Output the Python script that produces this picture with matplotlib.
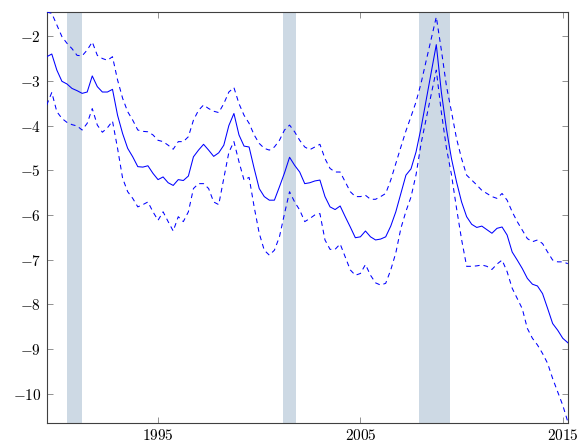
import numpy as np
import matplotlib
matplotlib.use("Agg")
import matplotlib.pyplot as plt

plt.rcParams['mathtext.fontset'] = 'cm'
plt.rcParams['font.family'] = ['DejaVu Serif']

# quarterly dates 1989Q3 .. 2015Q2
start_year = 1989.5
n_quarters = 104
dates = start_year + 0.25 * np.arange(n_quarters)

estimate = [
    -2.46, -2.40, -2.76, -3.01, -3.07, -3.17, -3.22, -3.28, -3.25, -2.89,
    -3.13, -3.25, -3.25, -3.19, -3.77, -4.18, -4.51, -4.70, -4.92, -4.93,
    -4.90, -5.07, -5.21, -5.15, -5.28, -5.34, -5.21, -5.23, -5.13, -4.70,
    -4.55, -4.42, -4.55, -4.69, -4.61, -4.44, -4.00, -3.73, -4.21, -4.46,
    -4.48, -4.96, -5.41, -5.59, -5.67, -5.67, -5.37, -5.06, -4.71, -4.89,
    -5.04, -5.30, -5.28, -5.24, -5.22, -5.59, -5.82, -5.88, -5.80, -6.04,
    -6.27, -6.51, -6.49, -6.36, -6.49, -6.56, -6.54, -6.49, -6.25, -5.93,
    -5.52, -5.11, -4.97, -4.59, -4.05, -3.43, -2.81, -2.19,
    -3.25, -4.07, -4.74, -5.26, -5.71, -6.04, -6.21, -6.28, -6.25, -6.33,
    -6.41, -6.30, -6.27, -6.45, -6.83, -7.01, -7.20, -7.42, -7.55, -7.59,
    -7.76, -8.09, -8.43, -8.58, -8.76, -8.86,
]

upper = [
    -1.46, -1.49, -1.75, -2.01, -2.16, -2.28, -2.43, -2.44, -2.31, -2.13,
    -2.43, -2.50, -2.54, -2.46, -2.98, -3.39, -3.69, -3.88, -4.10, -4.13,
    -4.14, -4.21, -4.33, -4.36, -4.44, -4.53, -4.36, -4.36, -4.25, -3.88,
    -3.66, -3.54, -3.62, -3.68, -3.71, -3.51, -3.25, -3.15, -3.51, -3.77,
    -3.95, -4.21, -4.40, -4.51, -4.55, -4.48, -4.33, -4.10, -3.99, -4.14,
    -4.33, -4.48, -4.54, -4.48, -4.42, -4.74, -4.96, -5.04, -5.04, -5.26,
    -5.48, -5.59, -5.59, -5.56, -5.65, -5.65, -5.59, -5.52, -5.22, -4.85,
    -4.48, -4.12, -3.80, -3.47, -3.05, -2.55, -2.06, -1.57,
    -2.31, -3.11, -3.69, -4.29, -4.74, -5.11, -5.22, -5.33, -5.45, -5.52,
    -5.59, -5.63, -5.52, -5.67, -5.93, -6.15, -6.34, -6.53, -6.60, -6.56,
    -6.64, -6.83, -7.01, -7.05, -7.05, -7.09,
]

lower = [
    -3.54, -3.26, -3.69, -3.84, -3.93, -3.98, -4.01, -4.10, -3.95, -3.62,
    -3.99, -4.15, -4.05, -3.90, -4.51, -5.18, -5.48, -5.63, -5.82, -5.77,
    -5.71, -5.93, -6.12, -5.93, -6.15, -6.36, -6.04, -6.15, -5.93, -5.41,
    -5.30, -5.30, -5.41, -5.71, -5.77, -5.18, -4.60, -4.36, -4.81, -5.22,
    -5.16, -5.82, -6.41, -6.79, -6.90, -6.79, -6.49, -5.97, -5.48, -5.71,
    -5.89, -6.15, -6.08, -6.00, -5.97, -6.56, -6.77, -6.77, -6.65, -6.94,
    -7.23, -7.35, -7.31, -7.11, -7.35, -7.52, -7.57, -7.53, -7.23, -6.85,
    -6.30, -5.92, -5.60, -5.10, -4.40, -3.85, -3.30, -2.76,
    -3.70, -4.50, -5.10, -5.85, -6.55, -7.15, -7.15, -7.14, -7.12, -7.15,
    -7.22, -7.10, -7.01, -7.27, -7.64, -7.87, -8.10, -8.54, -8.76, -8.91,
    -9.10, -9.32, -9.66, -9.96, -10.26, -10.63,
]

recessions = [(1990.5, 1991.25), (2001.17, 2001.83), (2007.92, 2009.42)]

xticks = [1995, 2005, 2015]
yticks = [-10, -9, -8, -7, -6, -5, -4, -3, -2]

fig = plt.figure(figsize=(5.79, 4.45), dpi=100)
ax = fig.add_axes([0.0807, 0.050, 0.9, 0.923])

for a, b in recessions:
    ax.axvspan(a, b, color='#cdd9e4', lw=0, zorder=0)

ax.plot(dates, estimate, color='#0000ff', lw=0.75, zorder=3)
ax.plot(dates, upper, color='#0000ff', lw=0.75, dashes=(4.6, 3.8), zorder=3)
ax.plot(dates, lower, color='#0000ff', lw=0.75, dashes=(4.6, 3.8), zorder=3)

ax.set_xlim(1989.5, 2015.25)
ax.set_ylim(-10.65, -1.46)

ax.set_xticks(xticks)
ax.set_xticklabels([f'${t}$' for t in xticks])
ax.set_yticks(yticks)
ax.set_yticklabels([f'$-{abs(t)}$' for t in yticks])

ax.tick_params(direction='in', length=4.5, width=0.6, color='#808080',
               top=True, right=True, labelsize=11, pad=4)
for s in ax.spines.values():
    s.set_color('#404040')
    s.set_linewidth(0.8)

fig.savefig('out.png', dpi=100)
